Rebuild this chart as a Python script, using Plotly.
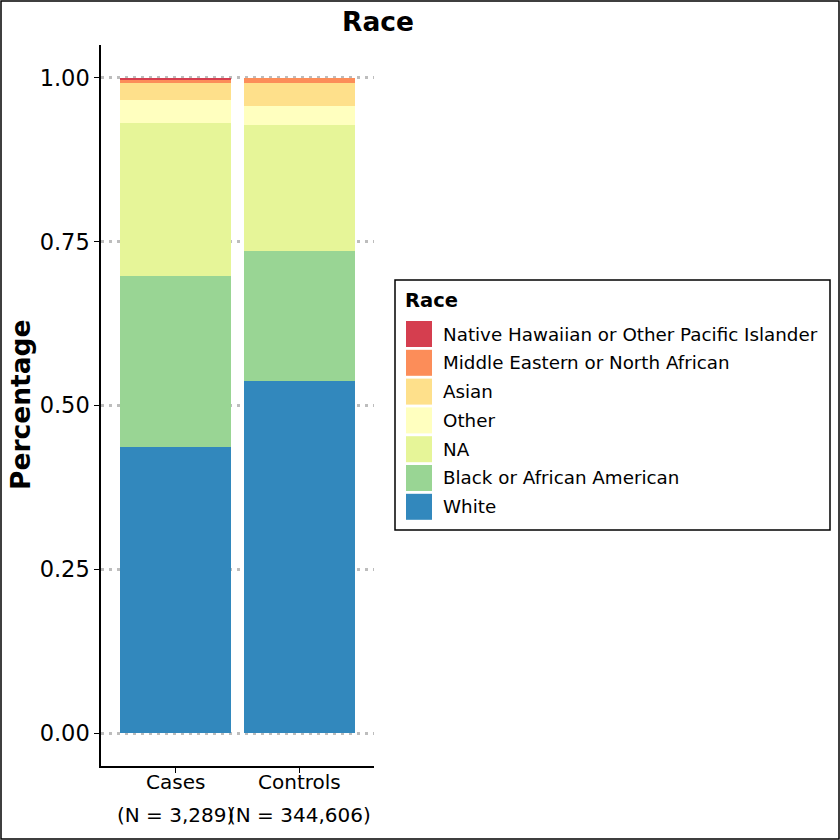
import plotly.graph_objects as go

groups = ['Cases', 'Controls']
group_n = ['(N = 3,289)', '(N = 344,606)']

# stacking order bottom -> top
races = ['White', 'Black or African American', 'NA', 'Other', 'Asian',
         'Middle Eastern or North African', 'Native Hawaiian or Other Pacific Islander']
colors = ['#3288BD', '#99D594', '#E6F598', '#FFFFBF', '#FEE08B', '#FC8D59', '#D53E4F']

cases_pct = [0.436, 0.262, 0.233, 0.035, 0.026, 0.005, 0.003]
controls_pct = [0.537, 0.199, 0.192, 0.029, 0.035, 0.008, 0.0]

W, H = 840, 840
L, R, T, B = 101, 374, 45, 766


def px_x(p):
    return (p - L) / (R - L)


def px_y(p):
    return (B - p) / (B - T)


fig = go.Figure()
for i, race in enumerate(races):
    fig.add_trace(go.Bar(
        x=groups,
        y=[cases_pct[i], controls_pct[i]],
        name=race,
        marker_color=colors[i],
        marker_line_width=0,
        width=0.9,
        showlegend=False,
    ))

shapes = []
annotations = []

# outer border
shapes.append(dict(type='rect', xref='paper', yref='paper',
                   x0=px_x(1), x1=px_x(W - 1), y0=px_y(H - 1), y1=px_y(1),
                   line=dict(color='black', width=1.5), fillcolor='rgba(0,0,0,0)'))

# legend box (drawn by hand to look like ggplot)
shapes.append(dict(type='rect', xref='paper', yref='paper',
                   x0=px_x(395), x1=px_x(830), y0=px_y(530), y1=px_y(280),
                   line=dict(color='black', width=1.5), fillcolor='white'))
annotations.append(dict(text='<b>Race</b>', xref='paper', yref='paper',
                        x=px_x(403), y=px_y(300), xanchor='left', yanchor='middle',
                        showarrow=False, font=dict(size=19.5, color='black')))
for k, race in enumerate(reversed(races)):
    col = list(reversed(colors))[k]
    cy = 334 + k * 28.8
    shapes.append(dict(type='rect', xref='paper', yref='paper',
                       x0=px_x(406), x1=px_x(432), y0=px_y(cy + 13), y1=px_y(cy - 13),
                       line=dict(width=0), fillcolor=col))
    annotations.append(dict(text=race, xref='paper', yref='paper',
                            x=px_x(441), y=px_y(cy), xanchor='left', yanchor='middle',
                            showarrow=False, font=dict(size=18.3, color='black')))

# x labels
for g, n in zip(groups, group_n):
    annotations.append(dict(text=g, x=g, xref='x', yref='paper', y=px_y(782),
                            yanchor='middle', showarrow=False,
                            font=dict(size=20, color='black')))
    annotations.append(dict(text=n, x=g, xref='x', yref='paper', y=px_y(815),
                            yanchor='middle', showarrow=False,
                            font=dict(size=20, color='black')))

annotations.append(dict(text='<b>Percentage</b>', xref='paper', yref='paper',
                        x=px_x(20), y=px_y(405), xanchor='center', yanchor='middle',
                        textangle=-90, showarrow=False,
                        font=dict(size=26.5, color='black')))

annotations.append(dict(text='<b>Race</b>', xref='paper', yref='paper',
                        x=px_x(378), y=px_y(21), xanchor='center', yanchor='middle',
                        showarrow=False, font=dict(size=26.5, color='black')))

fig.update_layout(
    width=W, height=H,
    barmode='stack',
    plot_bgcolor='white', paper_bgcolor='white',
    margin=dict(l=L, r=W - R, t=T, b=H - B, autoexpand=False),
    font=dict(family='DejaVu Sans', color='black'),
    shapes=shapes,
    annotations=annotations,
)
fig.update_xaxes(
    range=[-0.6, 1.6], showline=True, linecolor='black', linewidth=1.5,
    ticks='outside', ticklen=5, tickcolor='black', showticklabels=False,
    showgrid=False, zeroline=False,
)
fig.update_yaxes(
    range=[-0.05, 1.05], showline=True, linecolor='black', linewidth=1.5,
    tickvals=[0, 0.25, 0.5, 0.75, 1.0],
    ticktext=['0.00', '0.25', '0.50', '0.75', '1.00'],
    ticks='outside', ticklen=5, tickcolor='black',
    tickfont=dict(size=22.5, color='black'),
    showgrid=True, gridcolor='#bdbdbd', griddash='3px,5px', gridwidth=2.5,
    zeroline=False,
)

fig.write_html('out.html', config={'displayModeBar': False},
               post_script="document.body.style.margin='0';document.body.style.overflow='hidden';")
